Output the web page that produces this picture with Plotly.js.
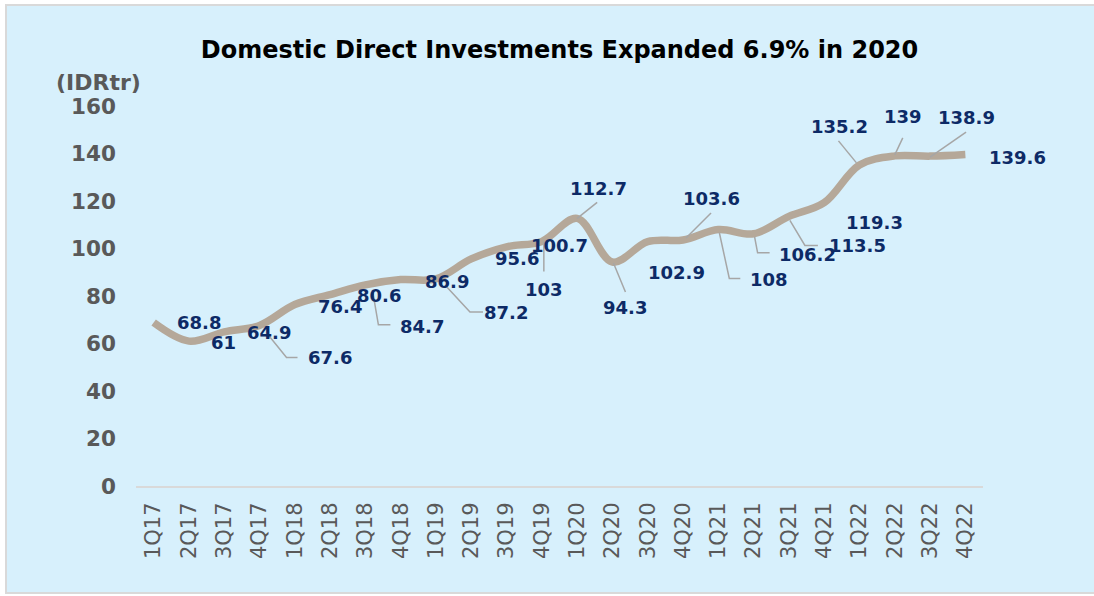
<!DOCTYPE html>
<html>
<head>
<meta charset="utf-8">
<script src="https://cdn.plot.ly/plotly-3.0.1.min.js"></script>
<style>
  html, body { margin:0; padding:0; background:#ffffff; overflow:hidden; width:1094px; height:596px; }
  #chart { position:absolute; left:5px; top:4px; width:1100px; height:586px;
           border-left:2px solid #D9D9D9; border-top:2px solid #D9D9D9; border-bottom:2px solid #D9D9D9; }
</style>
</head>
<body>
<div id="chart"></div>
<script>
// ---- data ----
const quarters = ["1Q17","2Q17","3Q17","4Q17","1Q18","2Q18","3Q18","4Q18","1Q19","2Q19","3Q19","4Q19",
                  "1Q20","2Q20","3Q20","4Q20","1Q21","2Q21","3Q21","4Q21","1Q22","2Q22","3Q22","4Q22"];
const investment = [68.8, 61, 64.9, 67.6, 76.4, 80.6, 84.7, 86.9, 87.2, 95.6, 100.7, 103,
                    112.7, 94.3, 102.9, 103.6, 108, 106.2, 113.5, 119.3, 135.2, 139, 138.9, 139.6];
const yTicks = [0, 20, 40, 60, 80, 100, 120, 140, 160];
const titleText = "Domestic Direct Investments Expanded 6.9% in 2020";
const unitText = "(IDRtr)";

// ---- label placement (pixel offsets from each point, screen down = +) ----
const labelOffsets = [[45,0],[35,1],[45,1],[70,32],[45,2],[49,1],[57,42],[46,2],[70,34],[46,0],[53,-1],[2,48],
                      [21,-30],[13,45],[29,31],[28,-41],[51,50],[54,21],[69,29],[50,20],[-20,-38],[8,-39],[36,-39],[52,3]];
const leaders = {
  3: [[10,11],[27,32],[38,32]],
  6: [[7,5],[13,40],[25,40]],
  8: [[9,6],[34,33],[47,33]],
  11: [[2,0],[2,30]],
  12: [[0,0],[20,-16]],
  13: [[1,1],[13,30]],
  15: [[3,-2],[28,-27]],
  16: [[1,3],[11,49],[22,49]],
  17: [[1,3],[4,19],[16,19]],
  18: [[1,4],[16,29],[29,29]],
  20: [[-21,-24],[-3,-2]],
  21: [[8,-18],[0,-1]],
  22: [[36,-24],[0,1]]
};

const bg = "#D7F0FC";
const labelColor = "#0D2A66";
const tickColor = "#595959";

const annotations = quarters.map((q, i) => ({
  x: q, y: investment[i], xref: "x", yref: "y",
  text: String(investment[i]), showarrow: false,
  xanchor: "center", yanchor: "middle",
  xshift: labelOffsets[i][0], yshift: -labelOffsets[i][1],
  font: { family: "DejaVu Sans, Verdana, sans-serif", size: 18, color: labelColor, weight: "bold" }
}));
annotations.push({
  xref: "paper", yref: "paper", x: -0.044, y: 1.063, xanchor: "center", yanchor: "middle",
  text: "<b>" + unitText + "</b>", showarrow: false,
  font: { family: "DejaVu Sans, Verdana, sans-serif", size: 22, color: tickColor }
});

const shapes = Object.keys(leaders).map(k => {
  const i = Number(k);
  const pts = leaders[k];
  const path = pts.map((p, j) => (j === 0 ? "M" : "L") + p[0] + "," + (-p[1])).join(" ");
  return {
    type: "path", xref: "x", yref: "y", xsizemode: "pixel", ysizemode: "pixel",
    xanchor: quarters[i], yanchor: investment[i], path: path,
    line: { color: "#A6A6A6", width: 1.5 }, layer: "above"
  };
});

const trace = {
  x: quarters, y: investment, type: "scatter", mode: "lines",
  line: { color: "#B5A899", width: 7.5, shape: "spline", smoothing: 1 },
  hoverinfo: "skip", cliponaxis: false
};

const layout = {
  width: 1100, height: 586,
  paper_bgcolor: bg, plot_bgcolor: bg,
  margin: { l: 129, r: 124, t: 100, b: 106 },
  showlegend: false,
  title: {
    text: "<b>" + titleText + "</b>",
    font: { family: "DejaVu Sans, Verdana, sans-serif", size: 24, color: "#000000" },
    xref: "paper", x: 0.5, xanchor: "center",
    yref: "container", y: 0.925, yanchor: "middle"
  },
  xaxis: {
    type: "category", range: [-0.5, 23.5], showgrid: false, zeroline: false,
    showline: true, linecolor: "#D9D9D9", linewidth: 2,
    ticks: "", tickangle: -90, ticklabelstandoff: 6,
    tickfont: { family: "DejaVu Sans, Verdana, sans-serif", size: 21, color: tickColor }
  },
  yaxis: {
    range: [0, 160], tickvals: yTicks, showgrid: false, zeroline: false, showline: false,
    ticks: "", ticklabelstandoff: 19,
    tickfont: { family: "DejaVu Sans, Verdana, sans-serif", size: 21.5, color: tickColor, weight: "bold" }
  },
  annotations: annotations,
  shapes: shapes
};

Plotly.newPlot("chart", [trace], layout, { displayModeBar: false, staticPlot: true });
</script>
</body>
</html>
